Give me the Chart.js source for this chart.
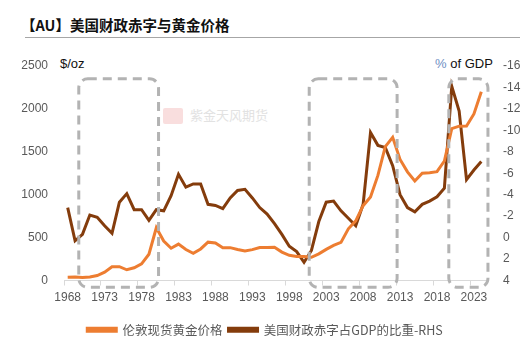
<!DOCTYPE html>
<html>
<head>
<meta charset="utf-8">
<script src="https://cdn.jsdelivr.net/npm/chart.js@4"></script>
<style>
body{margin:0;width:530px;height:358px;position:relative;background:#fff;overflow:hidden;font-family:"Noto Sans CJK SC",sans-serif}
#title{position:absolute;left:21px;top:14px;font-size:14.5px;font-weight:bold;color:#111;white-space:nowrap}
#rule{position:absolute;left:25px;top:37px;width:495px;height:0;border-top:1.5px solid #a6a6a6}
.unit{position:absolute;top:56px;font-family:"Liberation Sans",Arial,sans-serif;font-size:13px;color:#111;white-space:nowrap}
#lunit{left:60px}
#runit{left:435px}
#runit b{font-weight:normal;color:#6f8fc4}
#mark{position:absolute;left:163px;top:105px;white-space:nowrap;color:#e2e2e2;font-size:13px}
#mark i{display:inline-block;width:20px;height:16px;background:#f9dede;vertical-align:middle;margin-right:7px;border-radius:2px}
canvas{position:absolute;left:0;top:0}
</style>
</head>
<body>
<div id="title">【AU】美国财政赤字与黄金价格</div>
<div id="rule"></div>
<div id="mark"><i></i>紫金天风期货</div>
<div class="unit" id="lunit">$/oz</div>
<div class="unit" id="runit"><b>%</b> of GDP</div>
<canvas id="chart" width="530" height="358"></canvas>
<script>
"use strict"

var years = []
for (var y=1968; y<=2024; y++) years.push(String(y))

// London spot gold, annual average, $/oz
var goldPrice = [39,41,36,41,58,97,159,161,125,148,193,306,615,460,376,424,361,317,368,447,
	437,381,383,362,344,360,384,384,388,331,294,279,279,271,310,363,409,444,603,695,
	872,972,1225,1560,1669,1411,1266,1160,1251,1257,1268,1393,1770,1799,1800,1941,2200]

// US federal balance, % of GDP (negative = deficit)
var deficitPct = [-2.8,0.3,-0.3,-2.1,-1.9,-1.1,-0.4,-3.3,-4.1,-2.6,-2.6,-1.6,-2.6,-2.5,-3.9,-5.9,-4.7,-5.0,-5.0,-3.1,
	-3.0,-2.7,-3.7,-4.4,-4.5,-3.7,-2.8,-2.2,-1.3,-0.3,0.8,1.3,2.3,1.2,-1.5,-3.3,-3.4,-2.5,-1.8,-1.1,
	-3.1,-9.8,-8.6,-8.4,-6.7,-4.0,-2.8,-2.4,-3.1,-3.4,-3.8,-4.6,-14.1,-11.8,-5.4,-6.3,-7.1]

var leftTicks = [0,500,1000,1500,2000,2500]
var rightTicks = [-16,-14,-12,-10,-8,-6,-4,-2,0,2,4]

// highlighted periods: [from year, to year], box spans gold axis range
var highlightFrom = [1969.5, 2000.7, 2019.6]
var highlightTo = [1980.3, 2012.6, 2024.9]
var highlightTop = 2350, highlightBottom = -80

var labelFont = {family:'"Liberation Sans", Arial, sans-serif', size:12}

var highlightBoxes = {
	id: 'highlightBoxes',
	afterDatasetsDraw: function(chart){
		var ctx = chart.ctx, x = chart.scales.x, yl = chart.scales.y
		ctx.save()
		ctx.strokeStyle = '#b3b3b3'
		ctx.lineWidth = 3
		ctx.setLineDash([9,6])
		for (var i=0; i<highlightFrom.length; i++){
			var x0 = x.getPixelForValue(highlightFrom[i]-1968),
			x1 = x.getPixelForValue(highlightTo[i]-1968),
			y0 = yl.getPixelForValue(highlightTop),
			y1 = yl.getPixelForValue(highlightBottom)
			ctx.beginPath()
			ctx.roundRect(x0, y0, x1-x0, y1-y0, 9)
			ctx.stroke()
		}
		ctx.restore()
	}
}

new Chart(document.getElementById('chart'), {
	type: 'line',
	data: {
		labels: years,
		datasets: [{
			label: '伦敦现货黄金价格',
			data: goldPrice,
			borderColor: '#ED7D31',
			backgroundColor: '#ED7D31',
			borderWidth: 3,
			pointRadius: 0,
			yAxisID: 'y'
		},{
			label: '美国财政赤字占GDP的比重-RHS',
			data: deficitPct,
			borderColor: '#843C0C',
			backgroundColor: '#843C0C',
			borderWidth: 3,
			pointRadius: 0,
			yAxisID: 'y2'
		}]
	},
	options: {
		responsive: false,
		animation: false,
		layout: {padding: {top: 66, left: 0, right: 0, bottom: 12}},
		plugins: {
			tooltip: {enabled: false},
			legend: {
				position: 'bottom',
				labels: {
					boxWidth: 29,
					boxHeight: 3,
					padding: 6,
					color: '#595959',
					font: {family: '"Noto Sans CJK SC", sans-serif', size: 12.5}
				}
			}
		},
		scales: {
			x: {
				offset: true,
				afterFit: function(s){ s.height = 37 },
				border: {color: '#d9d9d9'},
				grid: {
					offset: true,
					drawOnChartArea: false,
					tickLength: 5,
					tickColor: function(c){ return c.index%5==0 ? '#d9d9d9' : 'rgba(0,0,0,0)' }
				},
				ticks: {
					autoSkip: false,
					maxRotation: 0,
					padding: 5,
					color: '#595959',
					font: labelFont,
					callback: function(v, i){ return i%5==0 ? years[i] : '' }
				}
			},
			y: {
				position: 'left',
				min: 0,
				max: 2500,
				afterFit: function(s){ s.width = 64 },
				afterBuildTicks: function(s){ s.ticks = leftTicks.map(function(v){ return {value: v} }) },
				border: {display: false},
				grid: {display: false},
				ticks: {padding: 8, color: '#595959', font: labelFont, callback: function(v){ return String(v) }}
			},
			y2: {
				position: 'right',
				reverse: true,
				min: -16,
				max: 4,
				afterFit: function(s){ s.width = 45 },
				afterBuildTicks: function(s){ s.ticks = rightTicks.map(function(v){ return {value: v} }) },
				border: {display: false},
				grid: {display: false},
				ticks: {padding: 10, color: '#595959', font: labelFont}
			}
		}
	},
	plugins: [highlightBoxes]
})
</script>
</body>
</html>
